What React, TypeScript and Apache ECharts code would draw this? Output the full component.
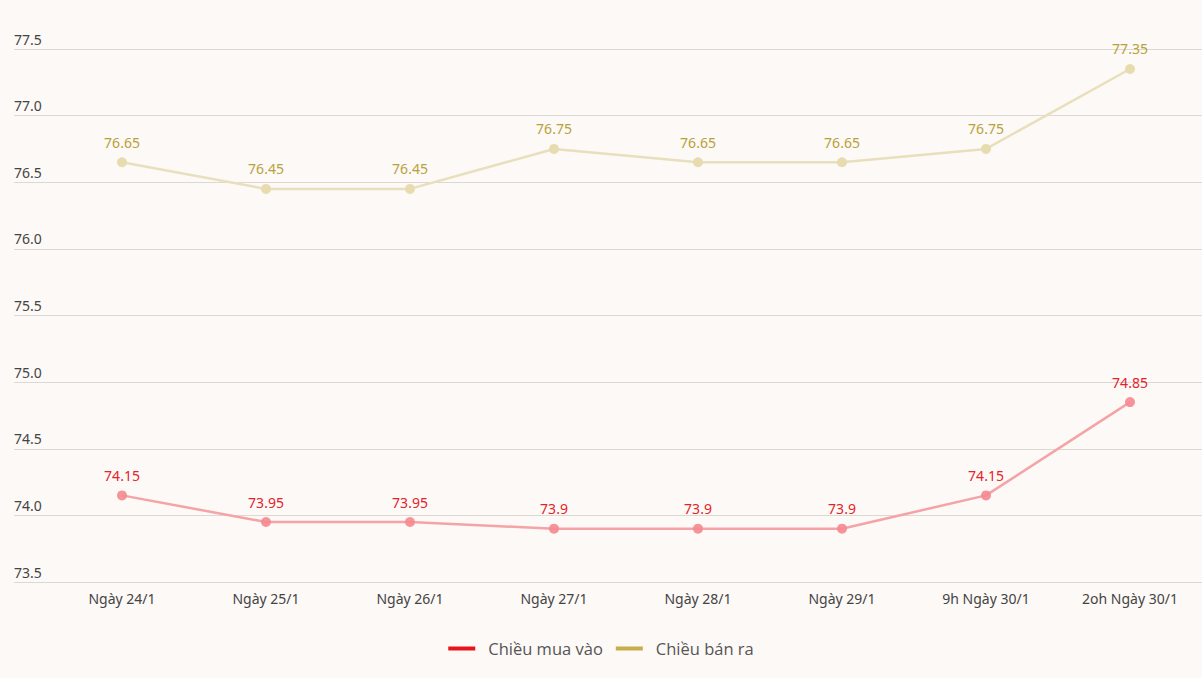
import React, { useEffect, useRef } from "react";
import * as echarts from "echarts";

const categories = [
  "Ngày 24/1",
  "Ngày 25/1",
  "Ngày 26/1",
  "Ngày 27/1",
  "Ngày 28/1",
  "Ngày 29/1",
  "9h Ngày 30/1",
  "2oh Ngày 30/1",
];
const buyValues = [74.15, 73.95, 73.95, 73.9, 73.9, 73.9, 74.15, 74.85];
const sellValues = [76.65, 76.45, 76.45, 76.75, 76.65, 76.65, 76.75, 77.35];
const buyName = "Chiều mua vào";
const sellName = "Chiều bán ra";

export default function App() {
  const ref = useRef<HTMLDivElement>(null);
  useEffect(() => {
    if (!ref.current) return;
    const chart = echarts.init(ref.current, undefined, { renderer: "svg" });
    const idx = categories.map((_, i) => i);
    chart.setOption({
      animation: false,
      backgroundColor: "#fdf9f6",
      textStyle: { fontFamily: "Noto Sans" },
      grid: { left: 14, right: 0, top: 49, bottom: 96 },
      xAxis: {
        type: "value",
        min: -0.75,
        max: 7.5,
        splitLine: { show: false },
        axisLine: { show: false },
        axisTick: { show: false },
        axisLabel: {
          customValues: idx,
          formatter: (v: number) => categories[Math.round(v)] ?? "",
          color: "#444",
          fontSize: 14,
          margin: 9,
          fontFamily: "Noto Sans",
        },
      },
      yAxis: {
        type: "value",
        min: 73.5,
        max: 77.5,
        interval: 0.5,
        axisLine: { show: false },
        axisTick: { show: false },
        splitLine: { lineStyle: { color: "#dcd8d4", width: 1 } },
        axisLabel: {
          inside: true,
          margin: 0,
          verticalAlign: "bottom",
          padding: [0, 0, 3, 0],
          color: "#444",
          fontSize: 14,
          formatter: (v: number) => v.toFixed(1),
        },
      },
      legend: {
        bottom: 16,
        left: "center",
        itemWidth: 27,
        itemHeight: 4,
        itemGap: 13,
        textStyle: {
          color: "#555",
          fontSize: 16.5,
          fontFamily: "Open Sans",
          padding: [0, 0, 0, 8],
        },
        data: [
          { name: buyName, icon: "rect", itemStyle: { color: "#e8141c", opacity: 1 } },
          { name: sellName, icon: "rect", itemStyle: { color: "#c8ad4a", opacity: 1 } },
        ],
      },
      series: [
        {
          name: buyName,
          type: "line",
          data: buyValues.map((v, i) => [i, v]),
          symbol: "circle",
          symbolSize: 10,
          lineStyle: { color: "#f4a3a6", width: 2.5 },
          itemStyle: { color: "#f48a90", opacity: 0.9 },
          label: {
            show: true,
            position: "top",
            distance: 8,
            color: "#e3222b",
            fontSize: 14,
            opacity: 1,
            formatter: (p: any) => String(p.value[1]),
          },
        },
        {
          name: sellName,
          type: "line",
          data: sellValues.map((v, i) => [i, v]),
          symbol: "circle",
          symbolSize: 10,
          lineStyle: { color: "#e8dfbd", width: 2.5 },
          itemStyle: { color: "#e6dcaf" },
          label: {
            show: true,
            position: "top",
            distance: 8,
            color: "#b6a23c",
            fontSize: 14,
            formatter: (p: any) => String(p.value[1]),
          },
        },
      ],
    });
    return () => chart.dispose();
  }, []);
  return (
    <div
      ref={ref}
      style={{ position: "fixed", left: 0, top: 0, width: 1202, height: 678 }}
    />
  );
}
